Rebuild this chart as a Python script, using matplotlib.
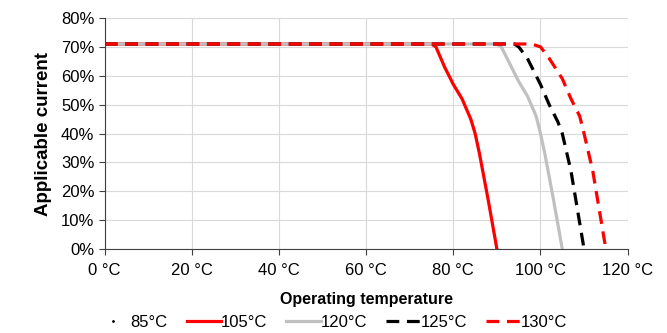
import matplotlib.pyplot as plt
from matplotlib.ticker import FuncFormatter

plt.rcParams['font.family'] = ['Liberation Sans', 'DejaVu Sans']

labels = ['85°C', '105°C', '120°C', '125°C', '130°C']

t85 = []
i85 = []
t105 = [0, 75, 76, 78, 80, 82, 84, 85, 86, 88, 90]
i105 = [71, 71, 70, 63, 57, 52, 45, 40, 33, 17, 0]
t120 = [0, 90, 91, 93, 95, 97, 99, 100, 101, 103, 105]
i120 = [71, 71, 70, 64, 58, 53, 46, 40, 33, 17, 0]
t125 = [0, 94, 95, 97, 100, 102, 104, 105, 107, 110]
i125 = [71, 71, 70, 66, 57, 50, 44, 40, 27, 0]
t130 = [0, 98, 100, 102, 105, 107, 109, 110, 112, 115]
i130 = [71, 71, 70, 66, 59, 52, 46, 40, 27, 0]

fig = plt.figure(figsize=(6.67, 3.33), dpi=100)
ax = fig.add_axes([0.157, 0.252, 0.784, 0.694])

ax.plot(t85, i85, color='black', marker='.', markersize=2, linestyle='none', label=labels[0])
ax.plot(t105, i105, color='#ff0000', lw=2.3, label=labels[1])
ax.plot(t120, i120, color='#c0c0c0', lw=2.3, label=labels[2])
ax.plot(t125, i125, color='black', lw=2.3, dashes=(4, 2.4), label=labels[3])
ax.plot(t130, i130, color='#ff0000', lw=2.3, dashes=(4, 2.4), label=labels[4])

ax.set_xlim(0, 120)
ax.set_ylim(0, 80)
ax.set_xticks(range(0, 121, 20))
ax.set_yticks(range(0, 81, 10))
ax.xaxis.set_major_formatter(FuncFormatter(lambda v, p: f'{int(v)} °C'))
ax.yaxis.set_major_formatter(FuncFormatter(lambda v, p: f'{int(v)}%'))
ax.grid(True, color='#d9d9d9', lw=0.8)
ax.set_axisbelow(True)
for s in ['top', 'right']:
    ax.spines[s].set_visible(False)
for s in ['left', 'bottom']:
    ax.spines[s].set_color('#404040')
ax.tick_params(axis='both', labelsize=12, color='#404040', length=4)
ax.tick_params(axis='x', pad=6)

ax.set_xlabel('Operating temperature', fontsize=11.5, fontweight='bold', labelpad=10)
ax.set_ylabel('Applicable current', fontsize=13.5, fontweight='bold', labelpad=6)

fig.legend(loc='center', bbox_to_anchor=(0.497, 0.033), ncol=5, frameon=False,
           fontsize=12, handlelength=2.05, handletextpad=0.0, columnspacing=1.15)

plt.savefig('out.png')
